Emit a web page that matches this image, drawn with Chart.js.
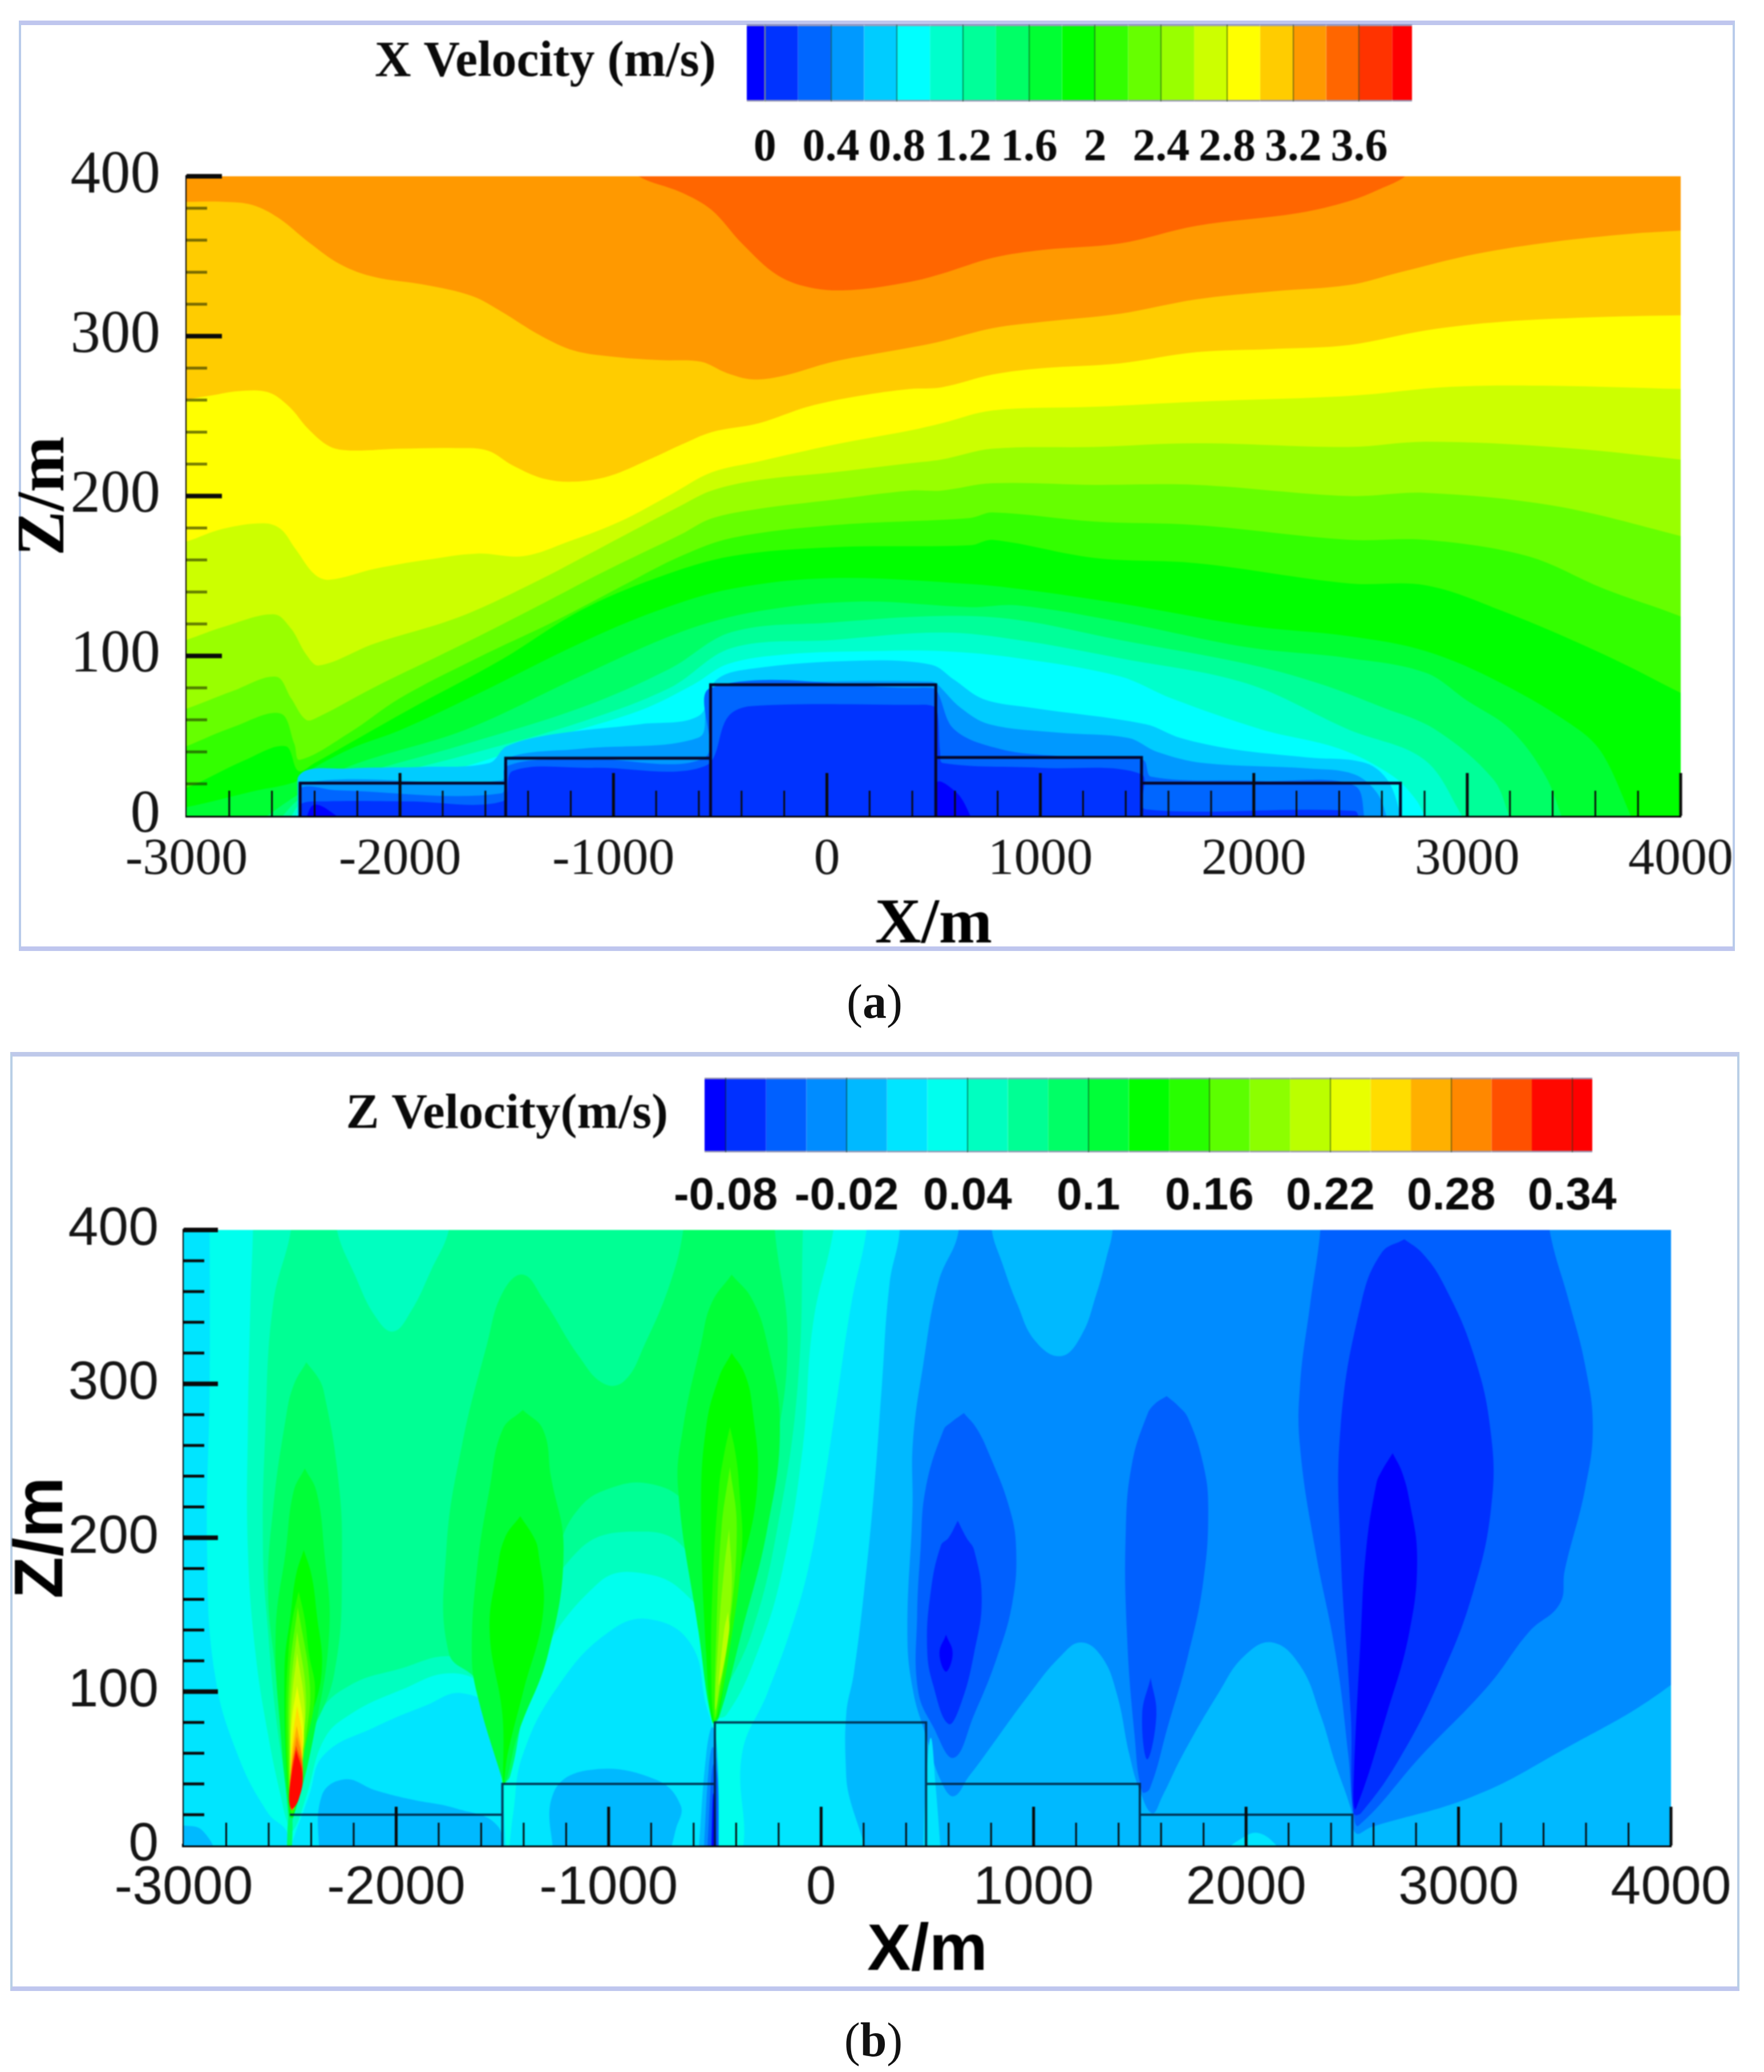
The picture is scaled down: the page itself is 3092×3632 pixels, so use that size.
<!DOCTYPE html>
<html><head><meta charset="utf-8">
<script src="https://cdn.jsdelivr.net/npm/chart.js@4"></script>
<style>
html,body{margin:0;padding:0;background:#fff;width:3092px;height:3632px;overflow:hidden}
canvas{position:absolute;filter:blur(1.3px)}
.panel{position:absolute;box-sizing:border-box;border-style:solid}
.cap{position:absolute;font-family:"Liberation Serif",serif;color:#111;font-size:84px;line-height:1;transform:translateX(-50%)}
</style></head><body>
<div class="panel" style="left:33px;top:36px;width:3008px;height:1631px;border-width:8px 4px 8px 4px;border-color:#bfc6ee #b9cbea #bfc6ee #b9cbea"></div>
<div class="panel" style="left:18px;top:1844px;width:3031px;height:1646px;border-width:8px 4px 8px 4px;border-color:#bfc9ea #b9cfe6 #bfc6ee #b9cfe6"></div>
<div class="cap" style="left:1533px;top:1714px">(<b>a</b>)</div>
<div class="cap" style="left:1531px;top:3534px">(<b>b</b>)</div>
<canvas id="fieldA" width="3092" height="1700" style="left:0;top:0"></canvas>
<canvas id="fieldB" width="3092" height="1660" style="left:0;top:1840px"></canvas>
<canvas id="barA" width="2100" height="300" style="left:500px;top:0"></canvas>
<canvas id="barB" width="2500" height="300" style="left:500px;top:1860px"></canvas>
<script>
// ---------- shared axes ----------
const xTickValues = [-3000,-2000,-1000,0,1000,2000,3000,4000];
const zTickValues = [0,100,200,300,400];
const xMinorStep = 200, zMinorStep = 20;

// ---------- colour-bar values ----------
const legendTitleA = 'X Velocity (m/s)';
const barTicksA = [0,0.4,0.8,1.2,1.6,2,2.4,2.8,3.2,3.6];
const barEdgesA = [-0.11,0,0.2,0.4,0.6,0.8,1,1.2,1.4,1.6,1.8,2,2.2,2.4,2.6,2.8,3,3.2,3.4,3.6,3.8,3.92];
const legendTitleB = 'Z Velocity(m/s)';
const barTicksB = [-0.08,-0.02,0.04,0.1,0.16,0.22,0.28,0.34];
const barEdgesB = [-0.0905,-0.08,-0.06,-0.04,-0.02,0,0.02,0.04,0.06,0.08,0.1,0.12,0.14,0.16,0.18,0.2,0.22,0.24,0.26,0.28,0.3,0.32,0.34,0.35];

// ---------- buildings (x, z) ----------
const terrainA = [[-2468,0],[-2468,20.4],[-1505,20.4],[-1505,0],[-1505,36],[-545,36],[-545,0],[-545,82],[510,82],[510,0],[510,36.5],[1474,36.5],[1474,0],[1474,20.4],[2687,20.4],[2687,0]];
const terrainB = [[-2500,20],[-1500,20],[-1500,0],[-1500,40],[-500,40],[-500,0],[-500,80],[494,80],[494,0],[494,40],[1500,40],[1500,0],[1500,20],[2500,20],[2500,0]];

// ---------- X velocity contours (x, z) ----------
const uBase = [[-3300,450],[4300,450]];
const u34 = [[-950,412],[-887,400.4],[-684,390],[-541,379],[-398,358],[-230,338],[-63,330],[128,329],[390,334],[537,339],[776,349],[1014,354],[1372,358],[1730,369],[2208,377],[2447,384.5],[2590,392],[2709,400],[2780,412]];
const u32 = [[-3100,384],[-3000,384],[-2830,384],[-2690,382],[-2570,374],[-2430,359],[-2280,345],[-2120,337],[-1880,332],[-1660,325],[-1520,315],[-1350,301],[-1185,291],[-990,287],[-780,285],[-590,284],[-470,277],[-350,273],[-210,275],[30,284],[270,290],[510,296],[776,305],[1014,309],[1372,314],[1730,323],[2089,328],[2447,332],[2685,340],[3043,351.5],[3401,359],[3760,364],[3998,366],[4100,367]];
const u30 = [[-3100,258],[-3000,260.4],[-2880,263],[-2760,265.6],[-2620,265],[-2520,256],[-2430,242],[-2330,231],[-2235,228.5],[-2000,229.6],[-1735,230],[-1590,228.5],[-1470,219],[-1330,211],[-1185,209],[-1020,212.5],[-830,223],[-684,232],[-540,240],[-320,245.5],[-85,256],[150,262.6],[390,267],[537,268],[776,276],[1014,280],[1372,283],[1730,290],[2089,292],[2447,294.5],[2805,303.6],[3163,309],[3640,312],[3998,313],[4100,313]];
const u28 = [[-3100,168],[-3000,171.5],[-2830,179.5],[-2640,183],[-2560,179.5],[-2490,167],[-2400,151],[-2330,147.6],[-2120,154.4],[-1880,160],[-1640,164],[-1420,162.4],[-1210,171.5],[-970,184],[-730,201],[-540,214.8],[-320,221.6],[30,232],[390,241],[537,245.5],[776,253.5],[1253,255.8],[1730,259],[2447,262.6],[2924,268.3],[3401,269],[3998,267],[4100,267]];
const u26 = [[-3100,106],[-3000,110],[-2830,118],[-2590,126],[-2510,117],[-2440,101],[-2380,94],[-2120,107.7],[-1735,123.7],[-1400,144],[-1040,169],[-684,194],[-540,203.4],[-320,210],[30,214.8],[390,220.5],[537,222.8],[776,229.6],[1253,230.7],[1730,233],[2447,230.7],[2805,234],[3401,230.7],[3998,222.8],[4100,220]];
const u24 = [[-3100,63],[-3000,67],[-2785,78],[-2580,87],[-2510,73.5],[-2440,60],[-2380,62],[-2120,80.4],[-1735,105.4],[-1400,128],[-1040,153],[-684,176],[-540,186],[-320,192],[30,197.7],[390,203.4],[537,203.4],[776,208],[1253,207],[1730,207],[2447,200],[2805,202],[3401,194],[3998,175],[4100,170]];
const u22 = [[-3100,38],[-3000,43.5],[-2780,55.6],[-2560,64],[-2495,45],[-2470,35],[-2236,52],[-2000,73.6],[-1640,98.6],[-1280,121.4],[-920,146.5],[-684,162.4],[-445,173.8],[30,181.8],[672,186.3],[776,189.7],[1253,184],[1730,181.8],[2447,172.6],[2805,172.6],[3282,162.4],[3640,142],[3998,124.8],[4100,118]];
const u20 = [[-3100,15],[-3000,17.5],[-2727,34.8],[-2536,43.5],[-2476,28],[-2400,33],[-1963,66],[-1520,98],[-1160,128],[-800,148.7],[-445,162.4],[30,168],[672,169.2],[776,172.6],[1253,161.3],[1730,158],[2447,145.3],[2805,144.2],[3163,128.2],[3640,100.9],[3998,77],[4100,70]];
const u18 = [[-3100,4],[-3000,5.4],[-2673,15.8],[-2495,21],[-2455,26],[-2236,41.7],[-2000,53.5],[-1640,76],[-1160,107.7],[-800,128],[-445,142],[30,148.7],[672,145],[895,142],[1372,132.8],[1969,119],[2447,112.3],[2805,103],[3163,82.7],[3521,54],[3637,38],[3773,-2]];
const u16 = [[-2645,-2],[-2468,14],[-2236,31],[-1691,54],[-1160,87],[-684,115],[-320,128],[150,134],[672,130.5],[895,131.6],[1372,121.4],[1969,105.4],[2447,98.6],[2805,89.5],[3000,72],[3203,54],[3366,25],[3447,-2]];
const u14 = [[-2563,-2],[-2468,10.6],[-2236,24],[-1691,45],[-1145,68],[-736,92],[-445,115],[30,121],[537,125],[895,122.5],[1372,110],[1969,95],[2300,83],[2600,68],[2850,54],[3121,23],[3203,-2]];
const u12 = [[-2517,-2],[-2468,7],[-2236,19],[-1691,38],[-1145,59],[-736,80],[-445,105],[30,110],[537,114.6],[895,110],[1372,98.6],[1969,82.7],[2443,54],[2800,35],[2986,-2]];
const u10 = [[-2495,-3],[-2468,3.6],[-2236,12],[-1691,31],[-1282,49],[-873,66],[-627,82],[-463,95],[-190,101],[219,103],[537,103],[895,98.6],[1372,87.2],[1611,73.6],[2036,54],[2400,42],[2650,25],[2760,10],[2810,-3]];
const u08 = [[-2480,-5],[-2468,26],[-2236,29.6],[-1909,30.5],[-1581,33],[-1500,43.5],[-1282,51],[-873,57.3],[-600,62.5],[-518,85],[-354,92],[136,97],[489,94.5],[597,85],[733,73],[950,67.7],[1493,57.3],[1656,48.7],[1900,41.7],[2253,36.5],[2524,33],[2633,21],[2700,-5]];
const u06 = [[-2475,-5],[-2468,20],[-1527,22],[-1500,36],[-1145,42],[-600,49],[-560,70],[-490,81],[0,84],[489,84],[516,82.4],[625,67.7],[760,57.3],[1086,52],[1412,48.7],[1547,40],[1764,33],[2253,29.6],[2470,26],[2579,14],[2633,-5]];
const u04 = [[-2474,-5],[-2468,17],[-2300,16],[-1527,14],[-1500,31],[-1145,35.7],[-572,36.5],[-545,80],[405,80],[489,80],[516,78],[597,54],[815,41.7],[1086,37.4],[1480,35],[1520,24.4],[2036,21.8],[2470,19],[2524,-5]];
const u02 = [[-2473,-5],[-2468,7],[-2345,9],[-1963,9],[-1520,9],[-1472,28],[-1100,30],[-572,31],[-463,62],[-354,68.6],[405,69.4],[489,69],[516,66],[530,40],[543,33],[1000,30],[1474,26],[1493,4],[2470,3],[2500,-5]];
const u00a = [[-2450,-5],[-2400,7],[-2263,-3]];
const u00b = [[510,-5],[516,21],[611,14],[665,2],[680,-5]];

// ---------- Z velocity contours (x, z) ----------
const wBase = [[-3300,450],[4300,450]];
const wM02 = [[648,450],[648,400],[552,366],[480,312],[432,262],[430,219],[406,139],[432,101],[492,72],[564,42],[624,32],[696,45],[756,56],[983,99],[1127,123],[1223,132],[1319,123],[1391,99],[1451,59],[1499,36],[1559,21],[1606,32],[1702,59],[1870,99],[1990,123],[2122,132],[2254,117],[2350,85],[2421,53],[2493,24],[2517,8],[2589,12],[3069,32],[3476,61],[3996,104],[4150,130],[4250,-60],[-3300,-60],[-3300,450],[648,450]];
const wM02top = [[803,420],[803,400],[851,379],[923,352],[1007,328],[1127,318],[1223,331],[1295,358],[1343,382],[1372,400],[1372,420]];
const wM04a = [[672,281],[732,271],[792,254],[887,219],[918,192],[899,157],[827,122],[720,85],[624,57],[528,77],[456,101],[452,150],[468,192],[492,232],[576,270],[612,275],[672,281]];
const wM06a = [[643,211],[684,200],[720,192],[756,160],[720,125],[660,93],[600,79],[528,104],[499,128],[516,165],[564,195],[600,200],[643,211]];
const wM08a = [[588,137],[619,125],[588,113],[557,125],[588,137]];
const wM04b = [[1626,292],[1678,286],[1726,278],[1798,248],[1822,219],[1798,171],[1726,123],[1631,77],[1547,37],[1511,35],[1475,72],[1439,139],[1434,205],[1463,248],[1535,280],[1571,287],[1626,292]];
const wM06b = [[1551,109],[1578,85],[1535,56],[1511,85],[1551,109]];
const wM04c = [[2350,420],[2350,400],[2302,352],[2254,299],[2254,259],[2326,192],[2421,125],[2481,59],[2505,21],[2530,13],[2829,59],[3141,104],[3333,139],[3476,157],[3500,179],[3596,232],[3632,272],[3596,312],[3523,352],[3428,400],[3428,420]];
const wM06c = [[2745,394],[2829,385],[2925,366],[3069,320],[3153,267],[3153,219],[3069,165],[2925,112],[2733,59],[2541,21],[2505,21],[2493,85],[2445,192],[2445,272],[2541,352],[2637,385],[2745,394]];
const wM08c = [[2690,255],[2733,243],[2769,224],[2805,187],[2769,139],[2661,85],[2517,24],[2505,32],[2541,139],[2565,192],[2613,235],[2637,243],[2690,255]];
const w00 = [[370,450],[370,400],[322,365],[286,299],[250,232],[202,165],[154,112],[118,85],[118,45],[142,-20],[-3300,-20],[-3300,450],[370,450]];
const w00spike = [[480,-5],[492,37],[516,70],[540,37],[564,-5]];
const w00patch = [[1894,-5],[1960,3],[2062,8],[2182,-5]];
const w02 = [[-2878,420],[-2878,299],[-2890,192],[-2854,112],[-2746,59],[-2603,21],[-2519,10],[-2502,0],[-2459,14],[-2411,32],[-2339,59],[-2099,77],[-1860,91],[-1692,99],[-1524,85],[-1512,55],[-1495,25],[-1476,-5],[-1450,20],[-1404,59],[-1236,104],[-997,139],[-805,147],[-613,131],[-541,91],[-512,77],[-488,40],[-481,-5],[-373,-5],[-373,59],[-253,99],[-146,139],[-62,179],[10,232],[70,286],[142,352],[214,400],[214,420]];
const w04 = [[-2674,420],[-2674,400],[-2686,352],[-2698,272],[-2698,192],[-2662,125],[-2603,72],[-2543,32],[-2507,13],[-2483,10],[-2423,32],[-2339,69],[-2219,85],[-1979,101],[-1740,112],[-1572,101],[-1512,72],[-1495,40],[-1464,45],[-1380,104],[-1045,171],[-805,176],[-613,160],[-541,139],[-505,85],[-445,85],[-301,125],[-182,179],[-86,259],[-38,339],[58,400],[58,420]];
const w06 = [[-2495,420],[-2495,400],[-2579,352],[-2615,272],[-2627,192],[-2603,139],[-2567,85],[-2526,45],[-2502,19],[-2471,24],[-2435,45],[-2363,85],[-2219,104],[-1979,115],[-1740,123],[-1572,112],[-1524,72],[-1500,43],[-1464,59],[-1404,123],[-1140,192],[-829,204],[-637,192],[-541,152],[-510,85],[-457,99],[-325,139],[-206,206],[-110,299],[-86,400],[-86,420]];
const w04top = [[-2279,420],[-2279,400],[-2195,371],[-2099,344],[-2015,334],[-1931,347],[-1835,374],[-1752,400],[-1752,420]];
const w08a = [[-2423,314],[-2363,303],[-2339,294],[-2279,246],[-2255,192],[-2291,112],[-2435,59],[-2483,19],[-2502,13],[-2519,45],[-2567,112],[-2603,165],[-2579,219],[-2519,278],[-2483,299],[-2423,314]];
const w08b = [[-1500,40],[-1524,72],[-1620,107],[-1752,125],[-1764,192],[-1692,259],[-1572,326],[-1500,359],[-1404,371],[-1308,355],[-1140,318],[-1021,300],[-925,302],[-829,326],[-709,366],[-649,400],[-649,420],[-218,420],[-218,400],[-158,326],[-230,246],[-350,165],[-457,112],[-505,85],[-517,125],[-565,192],[-637,222],[-805,235],[-997,232],[-1140,219],[-1236,192],[-1308,139],[-1404,85],[-1464,45],[-1500,40]];
const w10a = [[-2430,245],[-2375,230],[-2339,192],[-2315,139],[-2387,72],[-2483,19],[-2502,21],[-2543,72],[-2567,139],[-2519,192],[-2483,230],[-2430,245]];
const w10b = [[-1404,283],[-1308,270],[-1272,240],[-1212,192],[-1284,125],[-1428,72],[-1488,40],[-1505,45],[-1620,99],[-1644,125],[-1620,179],[-1560,232],[-1500,270],[-1404,283]];
const w10c = [[-421,371],[-325,355],[-253,326],[-194,272],[-253,206],[-373,139],[-481,83],[-512,80],[-577,139],[-673,232],[-649,272],[-565,326],[-517,352],[-421,371]];
const w12a = [[-2435,192],[-2399,176],[-2375,152],[-2351,112],[-2423,72],[-2483,19],[-2502,19],[-2526,112],[-2495,152],[-2471,176],[-2435,192]];
const w12b = [[-1416,214],[-1351,200],[-1332,192],[-1308,152],[-1404,99],[-1476,59],[-1495,40],[-1500,85],[-1560,139],[-1524,179],[-1488,200],[-1416,214]];
const w12c = [[-421,320],[-361,307],[-325,286],[-301,232],[-397,165],[-481,85],[-512,81],[-541,125],[-565,219],[-541,272],[-481,304],[-421,320]];
const w14a = [[-2459,165],[-2430,147],[-2411,125],[-2382,99],[-2435,59],[-2483,21],[-2495,21],[-2511,45],[-2519,85],[-2507,125],[-2488,147],[-2459,165]];
const w14c = [[-429,272],[-402,254],[-385,232],[-373,192],[-433,125],[-488,85],[-505,81],[-517,112],[-512,165],[-481,232],[-457,254],[-429,272]];
const w16a = [[-2463,155],[-2406,104],[-2423,72],[-2478,24],[-2495,24],[-2507,59],[-2502,112],[-2463,155]];
const w16c = [[-429,246],[-397,206],[-433,139],[-488,91],[-500,83],[-493,139],[-469,206],[-429,246]];
const w18a = [[-2466,139],[-2425,99],[-2440,67],[-2483,24],[-2497,24],[-2502,72],[-2495,104],[-2466,139]];
const w18c = [[-433,206],[-421,165],[-457,125],[-498,88],[-481,139],[-457,179],[-433,206]];
const w20a = [[-2466,125],[-2430,88],[-2447,61],[-2488,24],[-2497,59],[-2492,93],[-2466,125]];
const w20c = [[-438,152],[-433,139],[-481,104],[-457,139],[-438,152]];
const w22 = [[-2466,104],[-2435,75],[-2449,53],[-2492,24],[-2497,53],[-2492,80],[-2466,104]];
const w24 = [[-2466,91],[-2440,67],[-2452,45],[-2492,24],[-2497,50],[-2488,69],[-2466,91]];
const w26 = [[-2468,78],[-2444,59],[-2454,40],[-2492,24],[-2497,43],[-2488,61],[-2468,78]];
const w28 = [[-2468,71],[-2440,54],[-2454,36],[-2492,23],[-2500,37],[-2490,53],[-2468,71]];
const w30 = [[-2471,65],[-2440,50],[-2456,34],[-2492,23],[-2502,34],[-2492,50],[-2471,65]];
const w32 = [[-2471,62],[-2440,45],[-2459,30],[-2490,24],[-2504,30],[-2492,46],[-2471,62]];
const wStem = [[-2515,-3],[-2505,20],[-2490,20],[-2490,-3]];
const wLow1 = [[-2363,-10],[-2351,32],[-2243,43],[-2099,36],[-1931,30],[-1716,24],[-1524,13],[-1500,-10]];
const wLow2 = [[-1260,-10],[-1260,34],[-1092,49],[-781,43],[-661,26],[-685,10],[-721,-10]];
const wLow3 = [[-3100,13],[-2998,13],[-2914,10],[-2866,-5],[-3100,-5]];
const wRoot1 = [[-577,-5],[-541,59],[-512,77],[-488,59],[-481,-5]];
const wRoot2 = [[-553,-5],[-529,50],[-510,64],[-488,50],[-481,-5]];
const wRoot3 = [[-536,-5],[-517,43],[-505,53],[-488,43],[-484,-5]];
const wRoot4 = [[-517,-5],[-507,34],[-493,-5]];

// ---------- styling tables ----------
const layersA = [
 [uBase,'#ff9900','start'],[u34,'#ff6600','end'],[u32,'#ffcc00','start'],[u30,'#ffff00','start'],[u28,'#ccff00','start'],
 [u26,'#99ff00','start'],[u24,'#66ff00','start'],[u22,'#33ff00','start'],[u20,'#00ff00','start'],[u18,'#00ff33','start'],
 [u16,'#00ff66','start'],[u14,'#00ff99','start'],[u12,'#00ffcc','start'],[u10,'#00ffff','start'],[u08,'#00ccff','start'],
 [u06,'#0099ff','start'],[u04,'#0066ff','start'],[u02,'#0033ff','start'],[u00a,'#0000ff','start'],[u00b,'#0000ff','start']
];
const cB = {m08:'#0000ff',m06:'#0030ff',m04:'#0060ff',m02:'#008cff',m00:'#00b9ff',p00:'#00e5ff',p02:'#00ffee',p04:'#00ffc0',p06:'#00ff94',p08:'#00ff66',p10:'#00ff38',p12:'#00ff00',p14:'#28ff00',p16:'#5cff00',p18:'#8cff00',p20:'#bbff00',p22:'#e8ff00',p24:'#ffdd00',p26:'#ffb000',p28:'#ff8800',p30:'#ff5000',p32:'#ff0800'};
const layersB = [
 [wBase,cB.m02,'start'],[wM02,cB.m00,'shape'],[wM02top,cB.m00,'shape'],
 [wM04a,cB.m04,'shape'],[wM06a,cB.m06,'shape'],[wM08a,cB.m08,'shape'],
 [wM04b,cB.m04,'shape'],[wM06b,cB.m06,'shape'],
 [wM04c,cB.m04,'shape'],[wM06c,cB.m06,'shape'],[wM08c,cB.m08,'shape'],
 [w00spike,cB.p00,'shape'],[w00patch,cB.p00,'shape'],
 [w00,cB.p00,'shape'],[wLow1,cB.m00,'shape'],[wLow2,cB.m00,'shape'],[wLow3,cB.m00,'shape'],
 [w02,cB.p02,'shape'],[w04,cB.p04,'shape'],[w06,cB.p06,'shape'],[w04top,cB.p04,'shape'],
 [w08a,cB.p08,'shape'],[w08b,cB.p08,'shape'],[wStem,cB.p08,'shape'],
 [w10a,cB.p10,'shape'],[w10b,cB.p10,'shape'],[w10c,cB.p10,'shape'],
 [w12a,cB.p12,'shape'],[w12b,cB.p12,'shape'],[w12c,cB.p12,'shape'],
 [w14a,cB.p14,'shape'],[w14c,cB.p14,'shape'],[w16a,cB.p16,'shape'],[w16c,cB.p16,'shape'],
 [w18a,cB.p18,'shape'],[w18c,cB.p18,'shape'],[w20a,cB.p20,'shape'],[w20c,cB.p20,'shape'],
 [w22,cB.p22,'shape'],[w24,cB.p24,'shape'],[w26,cB.p26,'shape'],[w28,cB.p28,'shape'],[w30,cB.p30,'shape'],[w32,cB.p32,'shape'],
 [wRoot1,cB.m00,'shape'],[wRoot2,cB.m02,'shape'],[wRoot3,cB.m04,'shape'],[wRoot4,cB.m08,'shape']
];
const barColorsA = ['#0000ff','#0033ff','#0066ff','#0099ff','#00ccff','#00ffff','#00ffcc','#00ff99','#00ff66','#00ff33','#00ff00','#33ff00','#66ff00','#99ff00','#ccff00','#ffff00','#ffcc00','#ff9900','#ff6600','#ff3300','#ff0000'];
const barColorsB = ['#0000ff',cB.m06,cB.m04,cB.m02,cB.m00,cB.p00,cB.p02,cB.p04,cB.p06,cB.p08,cB.p10,cB.p12,cB.p14,cB.p16,cB.p18,cB.p20,cB.p22,cB.p24,cB.p26,cB.p28,cB.p30,cB.p32,'#ff0000'];

// ---------- helpers ----------
const toPts = a => a.map(p => ({x:p[0], y:p[1]}));
const axisTicks = {
  id:'axisTicks',
  afterDatasetsDraw(chart, _a, o){
    const {x,y} = chart.scales, c = chart.ctx, base = y.getPixelForValue(0), left = x.getPixelForValue(-3000);
    c.save(); c.lineCap='butt';
    const seg = (x1,y1,x2,y2,w,col)=>{c.strokeStyle=col;c.lineWidth=w;c.beginPath();c.moveTo(x1,y1);c.lineTo(x2,y2);c.stroke();};
    for(let v=-3000+xMinorStep; v<=4000; v+=xMinorStep){
      const major = xTickValues.includes(v), px = x.getPixelForValue(v);
      seg(px,base,px,base-(major?o.xMajor:o.xMinor),major?5:3,'#0a0a0a');
    }
    for(let v=zMinorStep; v<=400; v+=zMinorStep){
      const major = zTickValues.includes(v), py = y.getPixelForValue(v);
      seg(left,py,left+(major?o.zMajor:o.zMinor),py,major?8:5,major?'#0a0a0a':o.zMinorColor);
    }
    c.restore();
  }
};
function fieldChart(id, layers, terrain, g){
  const datasets = layers.map((l,i)=>({data:toPts(l[0]),backgroundColor:l[1],fill:l[2],showLine:true,borderWidth:0,pointRadius:0,tension:l[2]==='shape'?0.42:0.35,order:-i}));
  datasets.push({data:toPts(terrain),showLine:true,fill:false,borderColor:g.terrainColor,borderWidth:g.terrainWidth,pointRadius:0,tension:0,order:-999});
  return new Chart(document.getElementById(id),{
    type:'scatter',
    data:{datasets},
    plugins:[axisTicks],
    options:{
      responsive:false,animation:false,events:[],
      layout:{padding:{top:g.top,right:g.right,bottom:0,left:0}},
      plugins:{legend:{display:false},tooltip:{enabled:false},axisTicks:g.ticks},
      scales:{
        x:{type:'linear',min:-3000,max:4000,
           afterBuildTicks:s=>{s.ticks=xTickValues.map(v=>({value:v}));},
           afterFit:s=>{s.height=g.xHeight;},
           grid:{display:false},border:{color:'#000',width:g.axisW},
           ticks:{font:g.tickFont,color:'#151515',padding:g.xPad,maxRotation:0,autoSkip:false,callback:v=>String(v)},
           title:{display:true,text:'X/m',color:'#000',font:g.titleFontX,padding:{top:0,bottom:g.xTitlePad}}},
        y:{type:'linear',min:0,max:400,
           afterBuildTicks:s=>{s.ticks=zTickValues.map(v=>({value:v}));},
           afterFit:s=>{s.width=g.yWidth;},
           grid:{display:false},border:{color:'#000',width:g.axisW-1},
           ticks:{font:g.tickFontY,color:'#151515',padding:g.yPad,callback:v=>String(v)},
           title:{display:true,text:'Z/m',color:'#000',font:g.titleFontZ,padding:{top:g.zTitlePad,bottom:0}}}
      }
    }
  });
}
function barChart(id, title, edges, colors, ticks, g){
  const datasets = colors.map((c,i)=>({data:[[edges[i],edges[i+1]]],backgroundColor:c,borderColor:'rgba(0,0,70,.4)',borderWidth:{top:3,bottom:3,left:0,right:0},borderSkipped:false,barPercentage:1,categoryPercentage:1}));
  return new Chart(document.getElementById(id),{
    type:'bar',
    data:{labels:[title],datasets},
    options:{
      indexAxis:'y',responsive:false,animation:false,events:[],
      layout:{padding:{top:g.top,right:g.right,bottom:0,left:0}},
      plugins:{legend:{display:false},tooltip:{enabled:false}},
      scales:{
        x:{type:'linear',min:edges[0],max:edges[edges.length-1],
           afterBuildTicks:s=>{s.ticks=ticks.map(v=>({value:v}));},
           afterFit:s=>{s.height=g.xHeight;s.paddingLeft=0;s.paddingRight=0;},
           grid:{color:'rgba(0,40,0,.5)',lineWidth:2,drawTicks:false,z:1},border:{display:false},
           ticks:{font:g.tickFont,color:'#0a0a0a',padding:g.xPad,maxRotation:0,autoSkip:false,callback:v=>String(v)}},
        y:{type:'category',stacked:true,
           afterFit:s=>{s.width=g.yWidth;s.paddingTop=0;s.paddingBottom=0;},
           grid:{display:false},border:{display:false},
           ticks:{font:g.titleFont,color:'#0a0a0a',padding:g.yPad}}
      }
    }
  });
}
const serif='"Liberation Serif",serif', sans='"Liberation Sans",sans-serif';
fieldChart('fieldA',layersA,terrainA,{
  top:309,right:146,xHeight:270,yWidth:327,axisW:5,xPad:15,yPad:38,xTitlePad:10,zTitlePad:10,
  terrainColor:'#06062a',terrainWidth:5,
  tickFont:{family:serif,size:92},tickFontY:{family:serif,size:105},
  titleFontX:{family:serif,size:112,weight:'bold'},titleFontZ:{family:serif,size:118,weight:'bold'},
  ticks:{xMajor:75,xMinor:44,zMajor:62,zMinor:36,zMinorColor:'rgba(30,40,0,.6)'}
});
fieldChart('fieldB',layersB,terrainB,{
  top:316,right:163,xHeight:265,yWidth:322,axisW:6,xPad:11,yPad:36,xTitlePad:10,zTitlePad:4,
  terrainColor:'rgba(0,30,60,.85)',terrainWidth:4,
  tickFont:{family:sans,size:95},tickFontY:{family:sans,size:95},
  titleFontX:{family:sans,size:115,weight:'bold'},titleFontZ:{family:sans,size:120,weight:'bold'},
  ticks:{xMajor:68,xMinor:40,zMajor:60,zMinor:36,zMinorColor:'#0a0a0a'}
});
barChart('barA',legendTitleA,barEdgesA,barColorsA,barTicksA,{
  top:43,right:125,xHeight:122,yWidth:809,xPad:34,yPad:46,
  tickFont:{family:serif,size:80,weight:'bold'},titleFont:{family:serif,size:88,weight:'bold'}
});
barChart('barB',legendTitleB,barEdgesB,barColorsB,barTicksB,{
  top:29,right:209,xHeight:140,yWidth:735,xPad:30,yPad:56,
  tickFont:{family:sans,size:80,weight:'bold'},titleFont:{family:serif,size:87,weight:'bold'}
});
</script>
</body></html>
